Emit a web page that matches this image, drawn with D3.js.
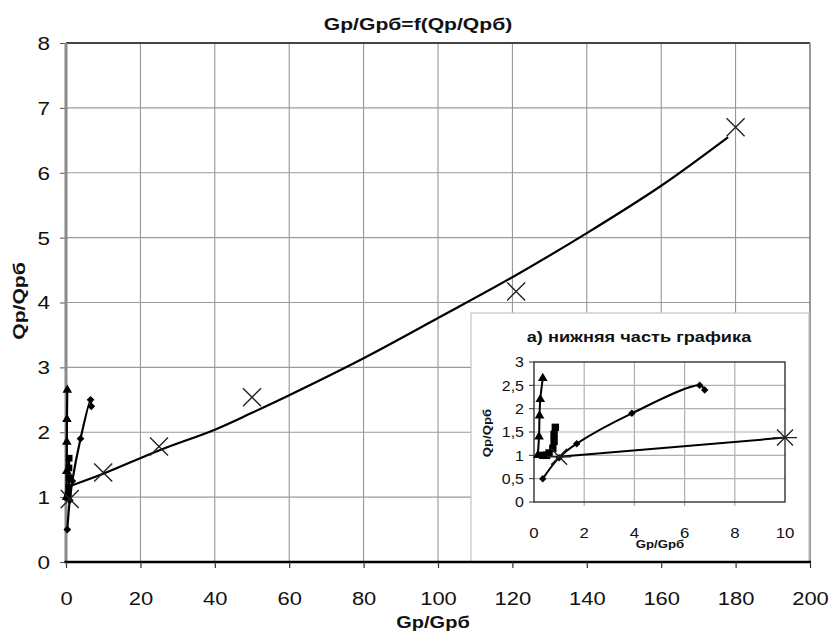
<!DOCTYPE html>
<html>
<head>
<meta charset="utf-8">
<script src="https://cdn.jsdelivr.net/npm/d3@7"></script>
<style>
  body { margin: 0; background: #fff; }
  svg { font-family: "Liberation Sans", Arial, sans-serif; }
</style>
</head>
<body>
<svg id="chart" width="830" height="635"></svg>
<script>
// Tick values
const xTicks = [0, 20, 40, 60, 80, 100, 120, 140, 160, 180, 200];
const yTicks = [0, 1, 2, 3, 4, 5, 6, 7, 8];
const insetXTicks = [0, 2, 4, 6, 8, 10];
const insetYTicks = [0, 0.5, 1, 1.5, 2, 2.5, 3];
const insetYLabels = ["0", "0,5", "1", "1,5", "2", "2,5", "3"];

// Series
const diamondX = [0.35, 1.0, 1.7, 3.9, 6.6, 6.8];
const diamondY = [0.5, 0.95, 1.25, 1.9, 2.5, 2.4];
const triangleX = [0.15, 0.2, 0.22, 0.25, 0.35];
const triangleY = [1.0, 1.4, 1.85, 2.2, 2.65];
const squareX = [0.35, 0.5, 0.6, 0.75, 0.8, 0.8, 0.85];
const squareY = [1.0, 1.0, 1.05, 1.15, 1.3, 1.45, 1.6];
const crossX = [1, 10, 25, 50, 121, 180];
const crossY = [0.97, 1.38, 1.78, 2.54, 4.17, 6.7];
// smooth curve drawn through the cross series in the big chart
const trendX = [1.5, 10, 25, 40, 50, 60, 80, 100, 120, 140, 160, 178];
const trendY = [1.18, 1.36, 1.72, 2.04, 2.3, 2.57, 3.14, 3.76, 4.39, 5.07, 5.8, 6.55];

const zip = (xs, ys) => xs.map((v, i) => ({ x: v, y: ys[i] }));
const diamonds = zip(diamondX, diamondY);
const triangles = zip(triangleX, triangleY);
const squares = zip(squareX, squareY);
const crosses = zip(crossX, crossY);
const trend = zip(trendX, trendY);

const svg = d3.select("#chart");

// text in the picture is drawn wide, so stretch it horizontally
function wideText(parent, str, px, py, opts) {
  const g = parent.append("g").attr("transform", `translate(${px},${py})${opts.rotate ? " rotate(-90)" : ""}`);
  g.append("text")
    .attr("text-anchor", opts.anchor || "middle")
    .attr("font-size", opts.size)
    .attr("font-weight", opts.bold ? "bold" : "normal")
    .attr("fill", "#111")
    .attr("transform", `scale(${opts.k},1)`)
    .text(str);
}

function crossPath(r) {
  return `M${-r},${-r}L${r},${r}M${-r},${r}L${r},${-r}`;
}

// markers: diamond = rotated square
function drawMarkers(g, data, sx, sy, kind, size) {
  const sel = g.append("g").selectAll("path").data(data).join("path");
  if (kind === "diamond") {
    sel.attr("transform", (d) => `translate(${sx(d.x)},${sy(d.y)}) rotate(45)`)
      .attr("d", d3.symbol(d3.symbolSquare, size)).attr("fill", "#000");
  } else if (kind === "triangle") {
    sel.attr("transform", (d) => `translate(${sx(d.x)},${sy(d.y)})`)
      .attr("d", d3.symbol(d3.symbolTriangle, size)).attr("fill", "#000");
  } else {
    sel.attr("transform", (d) => `translate(${sx(d.x)},${sy(d.y)})`)
      .attr("d", d3.symbol(d3.symbolSquare, size)).attr("fill", "#000");
  }
}

// ---------- main chart ----------
const x = d3.scaleLinear().domain([0, 200]).range([66, 810]);
const y = d3.scaleLinear().domain([0, 8]).range([562, 43]);

// grid
svg.append("g")
  .selectAll("line")
  .data(xTicks.slice(1, -1))
  .join("line")
  .attr("x1", (d) => x(d)).attr("x2", (d) => x(d))
  .attr("y1", y(8)).attr("y2", y(0))
  .attr("stroke", "#8c8c8c").attr("stroke-width", 1);

svg.append("g")
  .selectAll("line")
  .data(yTicks.slice(1, -1))
  .join("line")
  .attr("x1", x(0)).attr("x2", x(200))
  .attr("y1", (d) => y(d)).attr("y2", (d) => y(d))
  .attr("stroke", "#9a9a9a").attr("stroke-width", 1.2);

// frame
svg.append("line").attr("x1", x(0)).attr("x2", x(200)).attr("y1", y(8)).attr("y2", y(8))
  .attr("stroke", "#444").attr("stroke-width", 2);
svg.append("line").attr("x1", x(200)).attr("x2", x(200)).attr("y1", y(8)).attr("y2", y(0))
  .attr("stroke", "#777").attr("stroke-width", 1.5);

const yAxis = svg.append("g")
  .attr("transform", `translate(${x(0)},0)`)
  .call(d3.axisLeft(y).tickValues(yTicks).tickSize(6));
yAxis.select(".domain").remove();
yAxis.selectAll(".tick line").attr("stroke", "#555");
yAxis.selectAll(".tick text")
  .attr("x", -16 / 1.25).attr("dy", "0.36em")
  .attr("font-size", 18).attr("fill", "#111")
  .attr("font-family", "Liberation Sans, Arial, sans-serif")
  .attr("transform", "scale(1.25,1)");

svg.append("line").attr("x1", x(0)).attr("x2", x(0)).attr("y1", y(8)).attr("y2", y(0))
  .attr("stroke", "#8a8a8a").attr("stroke-width", 3);

// series in the big chart
const mainLine = d3.line().x((d) => x(d.x)).y((d) => y(d.y)).curve(d3.curveCatmullRom.alpha(0.5));

[trend, diamonds, triangles, squares].forEach((s) => {
  svg.append("path").datum(s).attr("d", mainLine)
    .attr("fill", "none").attr("stroke", "#000").attr("stroke-width", 2.2);
});

drawMarkers(svg, diamonds, x, y, "diamond", 30);
drawMarkers(svg, triangles, x, y, "triangle", 40);
drawMarkers(svg, squares, x, y, "square", 45);
svg.append("g").selectAll("path").data(crosses).join("path")
  .attr("transform", (d) => `translate(${x(d.x)},${y(d.y)})`)
  .attr("d", crossPath(9)).attr("fill", "none").attr("stroke", "#222").attr("stroke-width", 1.4);

// titles
wideText(svg, "Gp/Gpб=f(Qp/Qpб)", 418, 30, { size: 16, bold: true, k: 1.32 });
wideText(svg, "Gp/Gpб", 433, 628, { size: 16, bold: true, k: 1.25 });
wideText(svg, "Qp/Qpб", 25, 301, { size: 16, bold: true, k: 1.32, rotate: true });

// ---------- inset: lower part of the chart ----------
const ix = d3.scaleLinear().domain([0, 10]).range([534, 785]);
const iy = d3.scaleLinear().domain([0, 3]).range([502, 362]);

svg.append("rect")
  .attr("x", 471).attr("y", 313).attr("width", 338).attr("height", 249)
  .attr("fill", "#fff").attr("stroke", "#c4c4c4").attr("stroke-width", 1.2);

const inset = svg.append("g");

inset.append("g").selectAll("line")
  .data(insetXTicks.slice(1, -1)).join("line")
  .attr("x1", (d) => ix(d)).attr("x2", (d) => ix(d))
  .attr("y1", iy(3)).attr("y2", iy(0) + 4)
  .attr("stroke", "#b0b0b0").attr("stroke-width", 1.2);
inset.append("g").selectAll("line")
  .data(insetYTicks.slice(1, -1)).join("line")
  .attr("x1", ix(0)).attr("x2", ix(10))
  .attr("y1", (d) => iy(d)).attr("y2", (d) => iy(d))
  .attr("stroke", "#b0b0b0").attr("stroke-width", 1.2);

inset.append("rect")
  .attr("x", ix(0)).attr("y", iy(3)).attr("width", ix(10) - ix(0)).attr("height", iy(0) - iy(3))
  .attr("fill", "none").attr("stroke", "#222").attr("stroke-width", 1.3);

// inset tick labels
inset.append("g").selectAll("g")
  .data(insetXTicks).join("g")
  .attr("transform", (d) => `translate(${ix(d)},538)`)
  .append("text")
  .attr("text-anchor", "middle").attr("font-size", 14).attr("fill", "#111")
  .attr("transform", "scale(1.2,1)")
  .text((d) => d);

inset.append("g").selectAll("g")
  .data(insetYTicks).join("g")
  .attr("transform", (d) => `translate(${ix(0) - 10},${iy(d)})`)
  .append("text")
  .attr("text-anchor", "end").attr("dy", "0.36em").attr("font-size", 14.5).attr("fill", "#111")
  .attr("transform", "scale(1.1,1)")
  .text((d, i) => insetYLabels[i]);

inset.append("g").selectAll("line")
  .data(insetYTicks).join("line")
  .attr("x1", ix(0) - 5).attr("x2", ix(0))
  .attr("y1", (d) => iy(d)).attr("y2", (d) => iy(d))
  .attr("stroke", "#333");

// inset series
const insetLine = d3.line().x((d) => ix(d.x)).y((d) => iy(d.y)).curve(d3.curveCatmullRom.alpha(0.5));
const insetStraight = d3.line().x((d) => ix(d.x)).y((d) => iy(d.y));

inset.append("path").datum(crosses.filter((d) => d.x <= 10)).attr("d", insetStraight)
  .attr("fill", "none").attr("stroke", "#000").attr("stroke-width", 2);
[diamonds, triangles, squares].forEach((s) => {
  inset.append("path").datum(s).attr("d", insetLine)
    .attr("fill", "none").attr("stroke", "#000").attr("stroke-width", 2);
});

drawMarkers(inset, diamonds, ix, iy, "diamond", 28);
drawMarkers(inset, triangles, ix, iy, "triangle", 40);
drawMarkers(inset, squares, ix, iy, "square", 55);
inset.append("g").selectAll("path").data(crosses.filter((d) => d.x <= 10)).join("path")
  .attr("transform", (d) => `translate(${ix(d.x)},${iy(d.y)})`)
  .attr("d", crossPath(8) + "M-12,0L12,0")
  .attr("fill", "none").attr("stroke", "#222").attr("stroke-width", 1.4);

wideText(inset, "а) нижняя часть графика", 639, 342, { size: 14, bold: true, k: 1.3 });
wideText(inset, "Gp/Gpб", 660, 548, { size: 11, bold: true, k: 1.2 });
wideText(inset, "Qp/Qpб", 491, 433, { size: 11, bold: true, k: 1.2, rotate: true });

// main x axis drawn last so it sits on top of the inset box
const xAxis = svg.append("g")
  .attr("transform", `translate(0,${y(0)})`)
  .call(d3.axisBottom(x).tickValues(xTicks).tickSize(6).tickFormat(d3.format("d")));
xAxis.select(".domain")
  .attr("d", `M${x(0) - 1.5},0H${x(200) + 1}`)
  .attr("stroke", "#000").attr("stroke-width", 2.5);
xAxis.selectAll(".tick line").attr("stroke", "#333").attr("stroke-width", 1.2);
xAxis.selectAll(".tick text")
  .attr("y", 43).attr("dy", null)
  .attr("font-size", 18).attr("fill", "#111")
  .attr("font-family", "Liberation Sans, Arial, sans-serif")
  .attr("transform", "scale(1.22,1)");
</script>
</body>
</html>
